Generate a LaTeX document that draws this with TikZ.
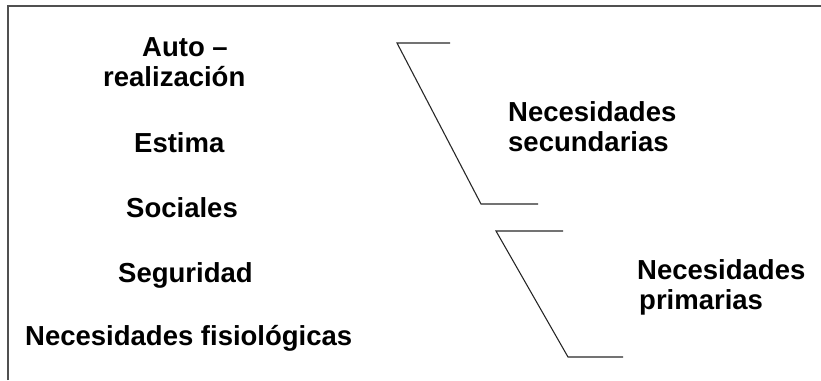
\documentclass[tikz,border=0pt]{standalone}
\usepackage{fontspec}
\setmainfont{Liberation Sans}
\usetikzlibrary{positioning}
\definecolor{framegray}{RGB}{80,80,80}
\definecolor{linegray}{RGB}{40,40,40}
\tikzset{
  % Textos de la piramide
  level/.style={font=\bfseries\fontsize{27.5}{30}\selectfont,inner sep=0,anchor=base west,align=left},
  % Corchetes y marco
  bracket/.style={line width=1.1pt,linegray},
  frame/.style={line width=1.6pt,framegray}
}
\begin{document}
\begin{tikzpicture}[x=1pt,y=-1pt]
        \useasboundingbox (0,0) rectangle (821,380);
        \draw[frame](8,380)--(8,6)--(821,6);
        \node[level] (auto) at (103,86){\hspace*{39pt}Auto –\\realización};
        \node[level] (estima) at (134,152){Estima};
        \node[level] (sociales) at (126,217){Sociales};
        \node[level] (seguridad) at (118,282){Seguridad};
        \node[level] (fisio) at (25,345){Necesidades fisiológicas};
        \node[level] (secund) at (508,151){Necesidades\\secundarias};
        \node[level] (prim) at (637,309){Necesidades\\\hspace*{2pt}primarias};
        \draw[bracket](450,43)--(397,43)--(481,204)--(538,204);
        \draw[bracket](563,231)--(496,231)--(568,357)--(623,357);
      \end{tikzpicture}
\end{document}
